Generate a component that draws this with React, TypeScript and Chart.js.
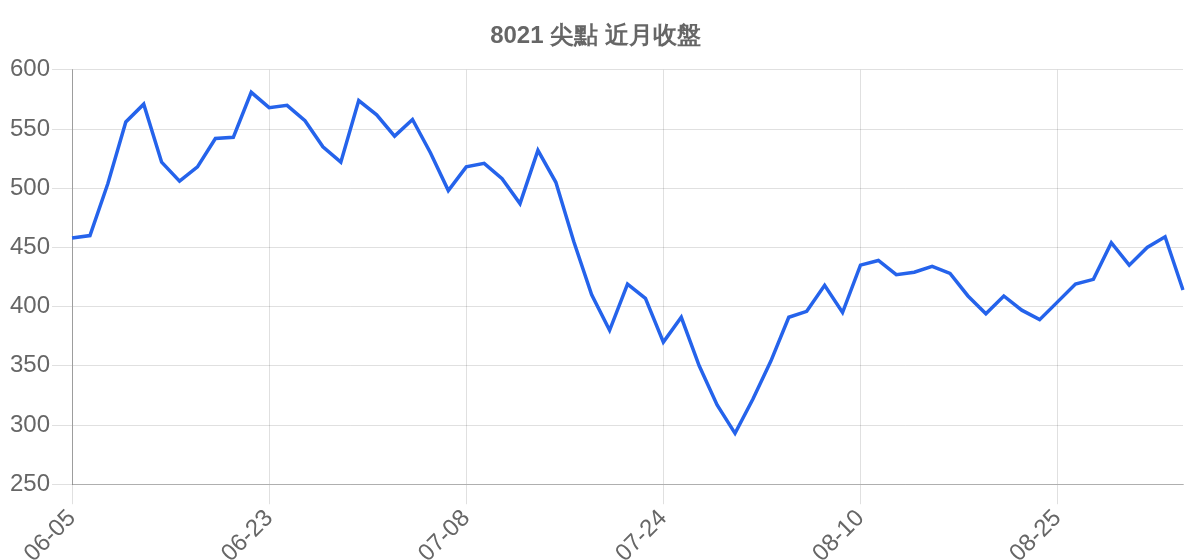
import { useEffect, useRef } from "react"
import { Chart, registerables } from "chart.js"

Chart.register(...registerables)

// 交易日 (近月)
const dates = [
  "06-05", "06-06", "06-09", "06-10", "06-11", "06-12", "06-13", "06-16", "06-17", "06-18", "06-19",
  "06-23", "06-24", "06-25", "06-26", "06-27", "06-30", "07-01", "07-02", "07-03", "07-04", "07-07",
  "07-08", "07-09", "07-10", "07-11", "07-14", "07-15", "07-16", "07-17", "07-18", "07-21", "07-22",
  "07-24", "07-25", "07-28", "07-29", "07-30", "07-31", "08-01", "08-04", "08-05", "08-06", "08-07",
  "08-10", "08-11", "08-12", "08-13", "08-14", "08-15", "08-18", "08-19", "08-20", "08-21", "08-22",
  "08-25", "08-26", "08-27", "08-28", "08-29", "09-01", "09-02", "09-03",
]

// 收盤價
const closes = [
  458, 460, 504, 556, 571, 522, 506, 518, 542, 543, 581,
  568, 570, 557, 535, 522, 574, 562, 544, 558, 530, 498,
  518, 521, 508, 487, 532, 505, 455, 410, 380, 419, 407,
  370, 391, 350, 317, 293, 322, 354, 391, 396, 418, 395,
  435, 439, 427, 429, 434, 428, 409, 394, 409, 397, 389,
  404, 419, 423, 454, 435, 450, 459, 414,
]

const yTicks = { min: 250, max: 600, step: 50 }
const labelEvery = 11

const title = "8021 尖點 近月收盤"

export default function App() {
  const canvasRef = useRef<HTMLCanvasElement>(null)

  useEffect(() => {
    if (!canvasRef.current) return
    const chart = new Chart(canvasRef.current, {
      type: "line",
      data: {
        labels: dates,
        datasets: [
          {
            data: closes,
            borderColor: "#2563eb",
            backgroundColor: "#2563eb",
            borderWidth: 3.5,
            pointRadius: 0,
            tension: 0,
          },
        ],
      },
      options: {
        animation: false,
        responsive: true,
        maintainAspectRatio: false,
        layout: { padding: { right: 9 } },
        plugins: {
          legend: { display: false },
          title: {
            display: true,
            text: title,
            color: "#666",
            font: { size: 24, weight: "bold" },
            padding: { top: 14, bottom: 19 },
          },
        },
        scales: {
          x: {
            grid: { color: "rgba(0,0,0,0.12)", tickLength: 20 },
            border: { color: "rgba(0,0,0,0.22)" },
            ticks: {
              autoSkip: false,
              minRotation: 45,
              maxRotation: 45,
              color: "#666",
              font: { size: 24 },
              padding: 0,
              callback: (_v, i) => (i % labelEvery === 0 ? dates[i] : null),
            },
          },
          y: {
            min: yTicks.min,
            max: yTicks.max,
            grid: { color: "rgba(0,0,0,0.12)", tickLength: 20 },
            border: { color: "rgba(0,0,0,0.3)" },
            ticks: {
              stepSize: yTicks.step,
              color: "#666",
              font: { size: 24 },
              padding: 2,
            },
          },
        },
      },
    })
    return () => chart.destroy()
  }, [])

  return (
    <div style={{ width: 1184, height: 560 }}>
      <canvas ref={canvasRef} />
    </div>
  )
}
